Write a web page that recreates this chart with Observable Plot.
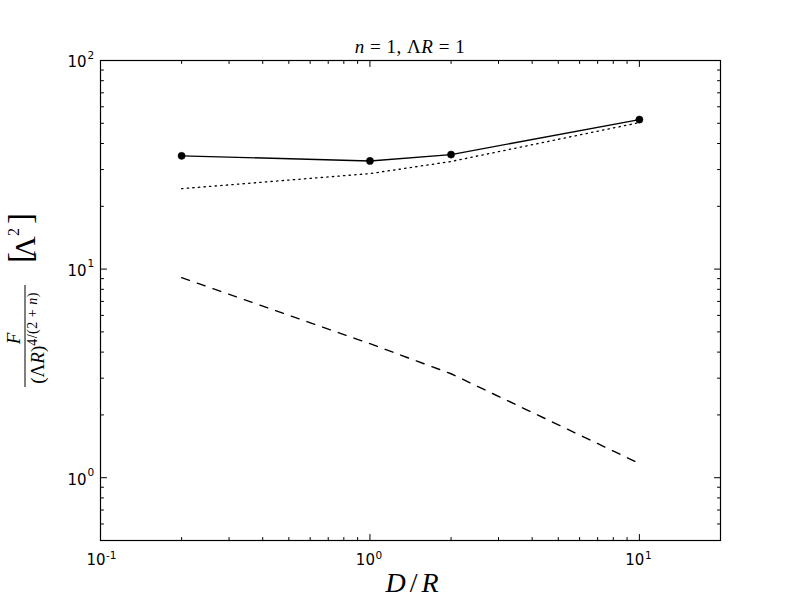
<!DOCTYPE html>
<html>
<head>
<meta charset="utf-8">
<script src="https://cdn.jsdelivr.net/npm/d3@7"></script>
<script src="https://cdn.jsdelivr.net/npm/@observablehq/plot@0.6"></script>
<style>
  html, body { margin: 0; padding: 0; background: #fff; overflow: hidden; }
  svg { display: block; }
</style>
</head>
<body>
<div id="chart"></div>
<script>
// ---- data ----
const dOverR       = [0.2, 1, 2, 10];
const totalForce   = [34.9, 33.0, 35.4, 52.1];   // solid line with dots
const dottedForce  = [24.3, 28.7, 32.8, 50.4];   // dotted line
const dashedForce  = [9.1, 4.39, 3.15, 1.17];    // dashed line

const xMajorTicks = [0.1, 1, 10];
const xTickBases  = ["10", "10", "10"];
const xTickExps   = ["-1", "0", "1"];
const xMinorTicks = [0.2, 0.3, 0.4, 0.5, 0.6, 0.7, 0.8, 0.9, 2, 3, 4, 5, 6, 7, 8, 9];
const yMajorTicks = [1, 10, 100];
const yTickBases  = ["10", "10", "10"];
const yTickExps   = ["0", "1", "2"];
const yMinorTicks = [0.6, 0.7, 0.8, 0.9, 2, 3, 4, 5, 6, 7, 8, 9, 20, 30, 40, 50, 60, 70, 80, 90];

const rows = (ys) => dOverR.map((x, i) => ({x, y: ys[i]}));
const solidRows = rows(totalForce);
const dottedRows = rows(dottedForce);
const dashedRows = rows(dashedForce);

const tickShape = {draw(context, l) { context.moveTo(0, 0); context.lineTo(0, -l); }};
function tickMarks(data, frameAnchor, rotate, length) {
  const horizontal = frameAnchor === "bottom" || frameAnchor === "top";
  return Plot.vector(data, {
    [horizontal ? "x" : "y"]: d => d,
    frameAnchor, rotate, length, anchor: "start",
    shape: tickShape, stroke: "black", strokeWidth: 1
  });
}

const FS = 15;   // tick label font size
const xLabelRows = xMajorTicks.map((v, i) => ({v, base: xTickBases[i], exp: xTickExps[i]}));
const yLabelRows = yMajorTicks.map((v, i) => ({v, base: yTickBases[i], exp: yTickExps[i]}));

const svg = Plot.plot({
  width: 800,
  height: 600,
  marginLeft: 100,
  marginRight: 80,
  marginTop: 60,
  marginBottom: 60,
  x: {type: "log", domain: [0.1, 20], axis: null},
  y: {type: "log", domain: [0.5, 100], axis: null},
  style: {fontFamily: "DejaVu Sans", fontSize: "15px", color: "black", background: "white", overflow: "visible"},
  marks: [
    Plot.line(dashedRows, {x: "x", y: "y", stroke: "black", strokeWidth: 1.4, strokeDasharray: "8.3,8.3"}),
    Plot.line(dottedRows, {x: "x", y: "y", stroke: "black", strokeWidth: 1.3, strokeDasharray: "1.4,4.2"}),
    Plot.line(solidRows, {x: "x", y: "y", stroke: "black", strokeWidth: 1.4}),
    Plot.dot(solidRows, {x: "x", y: "y", r: 3.6, fill: "black", stroke: "black", strokeWidth: 0.5}),
    Plot.frame({stroke: "black", strokeWidth: 1.2}),
    tickMarks(xMajorTicks, "bottom", 0, 6),
    tickMarks(xMinorTicks, "bottom", 0, 3),
    tickMarks(xMajorTicks, "top", 180, 6),
    tickMarks(xMinorTicks, "top", 180, 3),
    tickMarks(yMajorTicks, "left", 90, 6),
    tickMarks(yMinorTicks, "left", 90, 3),
    tickMarks(yMajorTicks, "right", -90, 6),
    tickMarks(yMinorTicks, "right", -90, 3),
    // x tick labels: base "10" and exponent
    Plot.text(xLabelRows, {x: "v", frameAnchor: "bottom", text: "base", textAnchor: "end", dx: 5, dy: 24, fontSize: FS, fontFamily: "DejaVu Sans", fill: "black"}),
    Plot.text(xLabelRows, {x: "v", frameAnchor: "bottom", text: "exp", textAnchor: "start", dx: 5.5, dy: 18, fontSize: 10.5, fontFamily: "DejaVu Sans", fill: "black"}),
    // y tick labels
    Plot.text(yLabelRows, {y: "v", frameAnchor: "left", text: "base", textAnchor: "end", dx: -14, dy: 2, fontSize: FS, fontFamily: "DejaVu Sans", fill: "black"}),
    Plot.text(yLabelRows, {y: "v", frameAnchor: "left", text: "exp", textAnchor: "start", dx: -13, dy: -5, fontSize: 10.5, fontFamily: "DejaVu Sans", fill: "black"})
  ]
});

const s = d3.select(svg);
const serif = "Liberation Serif";
// title
const title = s.append("text")
  .attr("x", 410).attr("y", 52.5)
  .attr("text-anchor", "middle")
  .attr("font-family", serif).attr("font-size", 19).attr("fill", "black")
  .attr("letter-spacing", 0.5);
title.append("tspan").attr("font-style", "italic").text("n");
title.append("tspan").text("\u2005=\u20051, \u039B");
title.append("tspan").attr("font-style", "italic").text("R");
title.append("tspan").text("\u2005=\u20051");

// x label
const xl = s.append("text")
  .attr("x", 414).attr("y", 592)
  .attr("text-anchor", "middle")
  .attr("font-family", serif).attr("font-size", 28).attr("fill", "black")
  .attr("letter-spacing", 4);
xl.append("tspan").attr("font-style", "italic").text("D");
xl.append("tspan").text("/");
xl.append("tspan").attr("font-style", "italic").text("R");

// y label (rotated)
const yl = s.append("g").attr("transform", "translate(0,300) rotate(-90)")
  .attr("font-family", serif).attr("fill", "black");
yl.append("text").attr("x", -38.5).attr("y", 20).attr("text-anchor", "middle")
  .attr("font-size", 19).attr("font-style", "italic").text("F");
yl.append("line").attr("x1", -87).attr("x2", 15).attr("y1", 25).attr("y2", 25)
  .attr("stroke", "black").attr("stroke-width", 1);
const den = yl.append("text").attr("x", -38).attr("y", 44).attr("text-anchor", "middle").attr("font-size", 19);
den.append("tspan").text("(\u039B");
den.append("tspan").attr("font-style", "italic").text("R");
den.append("tspan").text(")");
const ex = den.append("tspan").attr("dy", -7).attr("font-size", 14).attr("letter-spacing", 0.5);
ex.append("tspan").text("4/(2\u2005+\u2005");
ex.append("tspan").attr("font-style", "italic").text("n");
ex.append("tspan").text(")");
yl.append("text").attr("x", 37).attr("y", 31).attr("text-anchor", "start").attr("font-size", 33).attr("font-weight", 300).text("[");
yl.append("text").attr("x", 53).attr("y", 35).attr("text-anchor", "middle").attr("font-size", 30).text("\u039B");
yl.append("text").attr("x", 68).attr("y", 19).attr("text-anchor", "middle").attr("font-size", 16).text("2");
yl.append("text").attr("x", 87).attr("y", 31).attr("text-anchor", "end").attr("font-size", 33).attr("font-weight", 300).text("]");

document.getElementById("chart").appendChild(svg);
</script>
</body>
</html>
